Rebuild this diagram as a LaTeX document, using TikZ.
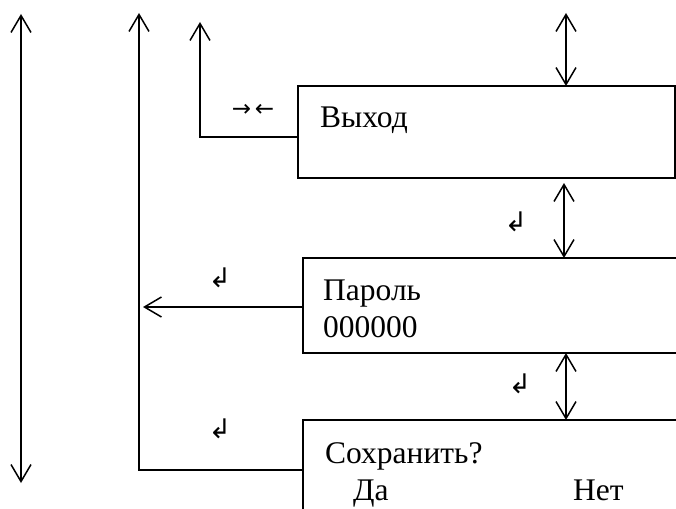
\documentclass[tikz,border=0pt]{standalone}
\usepackage{fontspec}
\setmainfont{Liberation Serif}
\newfontfamily\symfont{DejaVu Sans}
\usetikzlibrary{arrows.meta}
\begin{document}
\begin{tikzpicture}[x=1pt,y=-1pt,
  ln/.style={line width=1.5pt},
  barb/.style={ln,-{Straight Barb[length=17pt,width=20pt]}},
  dbarb/.style={ln,{Straight Barb[length=17pt,width=20pt]}-{Straight Barb[length=17pt,width=20pt]}},
  area/.style={inner sep=0pt,outer sep=0pt,anchor=north west},
  txt/.style={inner sep=0pt,anchor=base west,font=\fontsize{31.5}{36}\selectfont},
  sym/.style={inner sep=0pt,font=\symfont\fontsize{23}{25}\selectfont},
  ret/.style={inner sep=0pt,font=\symfont\fontsize{27}{29}\selectfont}]
\useasboundingbox (0,0) rectangle (676,508);
% areas
\node[area,minimum width=377pt,minimum height=92pt] (vyhod) at (298,86) {};
\node[area,minimum width=380pt,minimum height=95pt] (parol) at (303,258) {};
\node[area,minimum width=380pt,minimum height=95pt] (sohr) at (303,420) {};
% boxes
\draw[ln] (vyhod.north west) rectangle (vyhod.south east);
\draw[ln] (parol.north east) -- (parol.north west) -- (parol.south west) -- (parol.south east);
\draw[ln] (sohr.north east) -- (sohr.north west) -- (sohr.south west);
% texts
\node[txt] (t1) at (320,127) {Выход};
\node[txt] (t2) at (323,300) {Пароль};
\node[txt] (t3) at (323,337) {000000};
\node[txt] (t4) at (325,463) {Сохранить?};
\node[txt] (t5) at (353,500) {Да};
\node[txt] (t6) at (573,500) {Нет};
% symbols
\node[sym] (s0) at (253,110) {→\,←};
\node[ret] (s1) at (516,222) {↲};
\node[ret] (s2) at (220,278) {↲};
\node[ret] (s3) at (520,384) {↲};
\node[ret] (s4) at (220,429) {↲};
% coordinates for free ends
\coordinate (a1) at (21,14);
\coordinate (a2) at (21,483);
\coordinate (b1) at (139,13);
\coordinate (b2) at (139,470);
\coordinate (c1) at (200,22);
\coordinate (c2) at (200,137);
\coordinate (d1) at (143,307);
\coordinate (e1) at (566,13);
% connectors
\draw[dbarb] (a1) -- (a2);
\draw[barb] (sohr.west |- b2) -- (b2) -- (b1);
\draw[barb] (vyhod.west |- c2) -- (c2) -- (c1);
\draw[barb] (parol.west |- d1) -- (d1);
\draw[dbarb] (e1) -- (e1 |- vyhod.north);
\draw[dbarb] (564,183) -- (564,258);
\draw[dbarb] (566,353) -- (566,420);
\end{tikzpicture}
\end{document}
